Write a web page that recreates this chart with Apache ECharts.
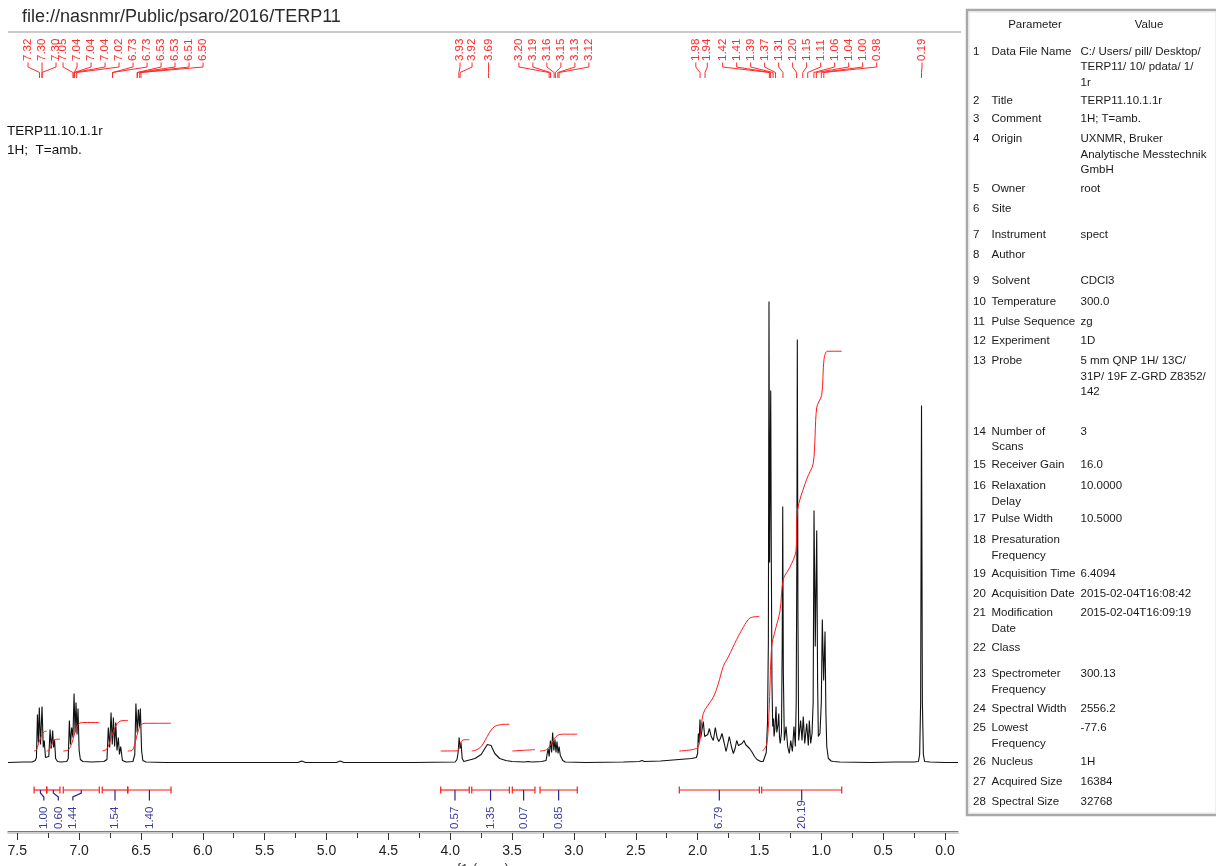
<!DOCTYPE html>
<html>
<head>
<meta charset="utf-8">
<title>TERP11 1H NMR</title>
<script src="https://cdn.jsdelivr.net/npm/echarts@6/dist/echarts.min.js"></script>
<style>
  html, body { margin: 0; padding: 0; background: #ffffff; }
  #chart { width: 1216px; height: 866px; }
</style>
</head>
<body>
<div id="chart"></div>
<script>
// ---------------------------------------------------------------- data
// 1H trace: [chemical shift (ppm), intensity (arbitrary units)]
const spectrum = [
  [7.575,0],[7.45,0.5],[7.38,0.5],[7.355,2],[7.345,5],[7.337,48],[7.329,20],[7.322,55],[7.312,18],
  [7.300,56],[7.290,15],[7.282,22],[7.272,5],[7.258,3],[7.245,6],[7.235,33],[7.225,14],[7.214,32],
  [7.207,15],[7.199,23],[7.190,4],[7.175,1],[7.15,0.5],[7.10,1],[7.088,4],[7.079,42],[7.070,18],
  [7.060,35],[7.050,25],[7.041,69],[7.033,30],[7.025,60],[7.017,28],[7.009,54],[7.000,12],[6.990,3],
  [6.97,1],[6.90,0.5],[6.80,1],[6.775,3],[6.764,35],[6.753,15],[6.742,50],[6.732,18],[6.723,45],
  [6.713,16],[6.704,40],[6.694,12],[6.683,25],[6.674,8],[6.664,16],[6.650,2],[6.62,0.5],[6.565,1],
  [6.550,8],[6.541,59],[6.531,30],[6.521,53],[6.513,35],[6.505,54],[6.495,12],[6.485,2],[6.46,0.5],
  [6.30,0],[5.80,0],[5.23,0],[5.20,1.5],[5.17,0],[4.92,0],[4.89,1.5],[4.86,0],[4.30,0],
  [3.96,0.5],[3.945,3],[3.936,10],[3.928,25],[3.920,14],[3.913,20],[3.903,4],[3.89,1],[3.86,2],
  [3.80,4],[3.75,8],[3.72,14],[3.70,18],[3.685,19],[3.67,17],[3.64,9],[3.60,4],[3.55,2],[3.50,1],
  [3.40,0.5],[3.37,1],[3.355,2],[3.34,0.5],[3.26,1],[3.225,2],[3.209,14],[3.200,6],[3.190,22],
  [3.180,10],[3.172,30],[3.162,12],[3.153,23],[3.145,10],[3.137,21],[3.128,9],[3.120,16],[3.110,7],
  [3.100,8],[3.090,2],[3.07,0.5],[2.90,0],[2.60,0.5],[2.47,1],[2.45,2],[2.43,1],[2.30,1.5],[2.15,3],
  [2.05,4],[2.01,5],[2.000,9],[1.994,29],[1.988,20],[1.981,43],[1.974,25],[1.967,27],[1.961,24],
  [1.954,41],[1.943,26],[1.932,24],[1.918,28],[1.905,34],[1.890,26],[1.873,22],[1.857,35],[1.843,25],
  [1.829,21],[1.816,24],[1.803,29],[1.786,20],[1.770,11],[1.757,18],[1.744,26],[1.727,16],[1.711,9],
  [1.697,14],[1.684,22],[1.670,17],[1.657,16],[1.641,19],[1.625,22],[1.612,18],[1.598,16],[1.580,14],
  [1.563,11],[1.540,6],[1.520,3],[1.509,2],[1.490,1],[1.470,1],[1.455,3],[1.445,10],[1.435,40],
  [1.428,120],[1.423,461],[1.418,200],[1.413,300],[1.409,372],[1.404,200],[1.399,80],[1.393,36],
  [1.387,44],[1.382,26],[1.375,34],[1.366,56],[1.360,30],[1.356,29],[1.350,38],[1.344,49],[1.338,25],
  [1.332,19],[1.322,30],[1.316,120],[1.312,256],[1.307,90],[1.299,22],[1.285,36],[1.272,16],[1.259,9],
  [1.247,22],[1.234,11],[1.221,36],[1.210,16],[1.203,60],[1.198,200],[1.194,423],[1.189,150],[1.183,22],
  [1.167,42],[1.156,22],[1.146,46],[1.134,19],[1.118,39],[1.105,17],[1.097,42],[1.086,19],[1.075,29],
  [1.066,60],[1.059,252],[1.049,116],[1.037,232],[1.030,80],[1.024,26],[1.011,29],[1.000,60],
  [0.992,143],[0.981,82],[0.970,131],[0.963,50],[0.956,16],[0.943,4],[0.920,1.5],[0.903,1],[0.85,0.5],
  [0.60,0],[0.40,0.5],[0.25,0.5],[0.215,1],[0.205,8],[0.197,60],[0.190,357],[0.183,60],[0.175,8],
  [0.165,1],[0.12,0.5],[0.0,0],[-0.105,0]
];

// picked peaks (ppm), in the groups they are annotated in
const peakGroups = [
  [7.32, 7.30, 7.30],
  [7.05, 7.04, 7.04, 7.04, 7.02, 6.73, 6.73, 6.53, 6.53, 6.51, 6.50],
  [3.93, 3.92],
  [3.69],
  [3.20, 3.19, 3.16, 3.15, 3.13, 3.12],
  [1.98, 1.94],
  [1.42, 1.41, 1.39, 1.37, 1.31, 1.20, 1.15, 1.11, 1.06, 1.04, 1.00, 0.98],
  [0.19]
];

// integration regions (ppm) and their integrals
const integralFrom   = [7.364, 7.262, 7.128, 6.813, 6.607, 4.077, 3.826, 3.498, 3.274, 2.148, 1.482];
const integralTo     = [7.262, 7.155, 6.837, 6.607, 6.257, 3.846, 3.522, 3.315, 2.973, 1.501, 0.835];
const integralValues = [1.00, 0.60, 1.44, 1.54, 1.40, 0.57, 1.35, 0.07, 0.85, 6.79, 20.19];

// running-integral curves: [ppm, fraction of the region's integral]
const integralShapes = [
  [[7.364,0],[7.345,0.05],[7.332,0.3],[7.315,0.6],[7.298,0.85],[7.280,0.98],[7.262,1]],
  [[7.262,0],[7.245,0.05],[7.228,0.4],[7.210,0.8],[7.190,0.97],[7.155,1]],
  [[7.128,0],[7.090,0.03],[7.070,0.15],[7.050,0.4],[7.035,0.65],[7.015,0.88],[6.995,0.98],[6.970,1],[6.837,1]],
  [[6.813,0],[6.780,0.05],[6.760,0.2],[6.740,0.45],[6.720,0.68],[6.700,0.85],[6.680,0.95],[6.660,0.99],[6.607,1]],
  [[6.607,0],[6.570,0.03],[6.550,0.25],[6.530,0.6],[6.510,0.88],[6.490,0.98],[6.460,1],[6.257,1]],
  [[4.077,0],[3.940,0.02],[3.925,0.4],[3.910,0.85],[3.895,0.98],[3.880,1],[3.846,1]],
  [[3.826,0],[3.790,0.04],[3.760,0.12],[3.730,0.3],[3.700,0.55],[3.670,0.78],[3.640,0.92],[3.600,0.98],[3.550,1],[3.522,1]],
  [[3.498,0],[3.400,0.5],[3.315,1]],
  [[3.274,0],[3.230,0.05],[3.200,0.25],[3.170,0.6],[3.145,0.85],[3.120,0.97],[3.090,1],[2.973,1]],
  [[2.148,0],[2.007,0.02],[1.981,0.08],[1.954,0.28],[1.873,0.40],[1.833,0.50],[1.792,0.63],[1.752,0.70],
   [1.684,0.83],[1.631,0.92],[1.576,0.99],[1.501,1]],
  [[1.474,0],[1.441,0.017],[1.423,0.096],[1.401,0.263],[1.374,0.30],[1.334,0.35],[1.307,0.43],[1.253,0.46],
   [1.205,0.50],[1.194,0.60],[1.118,0.68],[1.065,0.72],[1.037,0.86],[0.997,0.89],[0.978,0.98],[0.951,1],[0.835,1]]
];

// shift axis ticks (ppm)
const majorTicks = [0, 0.5, 1, 1.5, 2, 2.5, 3, 3.5, 4, 4.5, 5, 5.5, 6, 6.5, 7, 7.5];
const minorTicks = [0.25, 0.75, 1.25, 1.75, 2.25, 2.75, 3.25, 3.75, 4.25, 4.75, 5.25, 5.75, 6.25, 6.75, 7.25];

const fileTitle = 'file://nasnmr/Public/psaro/2016/TERP11';
const plotNotes = ['TERP11.10.1.1r', '1H;  T=amb.'];

// acquisition parameters
const paramHeader = ['Parameter', 'Value'];
const paramRows = [
  ['1', 'Data File Name', 'C:/ Users/ pill/ Desktop/\nTERP11/ 10/ pdata/ 1/\n1r'],
  ['2', 'Title', 'TERP11.10.1.1r'],
  ['3', 'Comment', '1H; T=amb.'],
  ['4', 'Origin', 'UXNMR, Bruker\nAnalytische Messtechnik\nGmbH'],
  ['5', 'Owner', 'root'],
  ['6', 'Site', ''],
  ['7', 'Instrument', 'spect'],
  ['8', 'Author', ''],
  ['9', 'Solvent', 'CDCl3'],
  ['10', 'Temperature', '300.0'],
  ['11', 'Pulse Sequence', 'zg'],
  ['12', 'Experiment', '1D'],
  ['13', 'Probe', '5 mm QNP 1H/ 13C/\n31P/ 19F Z-GRD Z8352/\n142'],
  ['14', 'Number of\nScans', '3'],
  ['15', 'Receiver Gain', '16.0'],
  ['16', 'Relaxation\nDelay', '10.0000'],
  ['17', 'Pulse Width', '10.5000'],
  ['18', 'Presaturation\nFrequency', ''],
  ['19', 'Acquisition Time', '6.4094'],
  ['20', 'Acquisition Date', '2015-02-04T16:08:42'],
  ['21', 'Modification\nDate', '2015-02-04T16:09:19'],
  ['22', 'Class', ''],
  ['23', 'Spectrometer\nFrequency', '300.13'],
  ['24', 'Spectral Width', '2556.2'],
  ['25', 'Lowest\nFrequency', '-77.6'],
  ['26', 'Nucleus', '1H'],
  ['27', 'Acquired Size', '16384'],
  ['28', 'Spectral Size', '32768']
];

// ---------------------------------------------------------------- layout
const FONT = '"Liberation Sans", Arial, Helvetica, sans-serif';
const PPM_MAX = 7.575, PPM_MIN = -0.105;
const GRID = { left: 8, right: 258, top: 40, bottom: 35 };
const Y_MIN = -68.5, Y_MAX = 722.5;

// peak annotation: where each group's labels are centred (ppm) and their spacing (px)
const peakLabelCentres = [7.300, 6.564, 3.872, 3.690, 3.162, 1.968, 1.175, 0.186];
const peakLabelGaps    = [14, 14, 12, 14, 14, 11.5, 14, 14];
const PEAK_TEXT_Y = 61, PEAK_LINE_Y = [62.5, 67, 72.5, 78];

// integral curves sit on an offset and rise in proportion to the integral
const INT_BASE = 11.5, INT_SCALE = 19.8;
const INT_BAR_Y = 790, INT_CAP = 3.6, INT_TEXT_Y = 829;
const INT_LABEL_GAP = 14.5, INT_LABEL_MERGE = 30;

// table
const TABLE = { left: 967, top: 10, right: 1218, bottom: 815 };
const COL_NUM = 973, COL_PARAM = 991.5, COL_VALUE = 1080.5, LINE_H = 15.4;
const rowFirstLineY = [51.7,100.7,119,139.3,189,209.3,235,255,281,301.7,321.7,340.7,361,431.7,
  465,486,519.3,540,574,594,613.3,648.3,674.3,709,728.3,762.3,782.3,801.7];

// spread overlapping labels: clusters of close centres are laid out evenly around their mean
function spreadLabels(centres, gap, mergeDist) {
  let clusters = centres.map((x, i) => ({ ids: [i], sum: x, start: x }));
  let changed = true;
  while (changed) {
    changed = false;
    for (let k = 0; k < clusters.length - 1; k++) {
      const a = clusters[k], b = clusters[k + 1];
      const aEnd = a.start + (a.ids.length - 1) * gap;
      if (b.start - aEnd < mergeDist) {
        const ids = a.ids.concat(b.ids), sum = a.sum + b.sum;
        clusters.splice(k, 2, { ids, sum, start: sum / ids.length - (ids.length - 1) * gap / 2 });
        changed = true;
        break;
      }
    }
  }
  const out = [];
  clusters.forEach(c => c.ids.forEach((id, j) => { out[id] = c.start + j * gap; }));
  return out;
}

// ---------------------------------------------------------------- series
const peakLabelData = [];
peakGroups.forEach((g, gi) => g.forEach((p, i) => peakLabelData.push([p, gi, i, g.length])));

const integralData = integralValues.map((v, i) => [integralFrom[i], integralTo[i], v, i]);

const integralCurveSeries = integralShapes.map((shape, i) => ({
  type: 'line',
  xAxisIndex: 0, yAxisIndex: 0,
  data: shape.map(([ppm, f]) => [ppm, INT_BASE + f * integralValues[i] * INT_SCALE]),
  showSymbol: false, symbol: 'none', smooth: 0.3,
  lineStyle: { color: '#ff1a1a', width: 1 },
  silent: true, z: 3
}));

const chart = echarts.init(document.getElementById('chart'), null, { renderer: 'canvas' });

const tableGraphics = [];
tableGraphics.push({
  type: 'rect', shape: { x: TABLE.left, y: TABLE.top, width: TABLE.right - TABLE.left, height: TABLE.bottom - TABLE.top },
  style: { fill: '#ffffff', stroke: '#a8a8a8', lineWidth: 2.5 }, z: 1
});
tableGraphics.push({
  type: 'rect', shape: { x: TABLE.left + 2, y: TABLE.top + 2, width: TABLE.right - TABLE.left - 4, height: TABLE.bottom - TABLE.top - 4 },
  style: { fill: null, stroke: '#e2e2e2', lineWidth: 1 }, z: 1
});
tableGraphics.push({ type: 'text', x: 1035, y: 25, z: 2,
  style: { text: paramHeader[0], font: '11.5px ' + FONT, fill: '#1a1a1a', align: 'center', verticalAlign: 'middle' } });
tableGraphics.push({ type: 'text', x: 1149, y: 25, z: 2,
  style: { text: paramHeader[1], font: '11.5px ' + FONT, fill: '#1a1a1a', align: 'center', verticalAlign: 'middle' } });
paramRows.forEach((row, i) => {
  const top = rowFirstLineY[i] - LINE_H / 2;
  [[COL_NUM, row[0]], [COL_PARAM, row[1]], [COL_VALUE, row[2]]].forEach(([x, t]) => {
    if (!t) return;
    tableGraphics.push({ type: 'text', x, y: top, z: 2,
      style: { text: t, font: '11.5px ' + FONT, fill: '#1a1a1a', align: 'left', verticalAlign: 'top', lineHeight: LINE_H } });
  });
});

const option = {
  animation: false,
  backgroundColor: '#ffffff',
  grid: { left: GRID.left, right: GRID.right, top: GRID.top, bottom: GRID.bottom,
          containLabel: false, outerBoundsMode: 'none' },
  xAxis: [
    { // shift axis: light line, major ticks and labels
      type: 'value', min: PPM_MIN, max: PPM_MAX, inverse: true, position: 'bottom', offset: 2,
      axisLine: { show: true, onZero: false, lineStyle: { color: '#cfcfcf', width: 2 } },
      axisTick: { show: true, length: 7, customValues: majorTicks, lineStyle: { color: '#333333', width: 1 } },
      axisLabel: { show: true, customValues: majorTicks, margin: 11, color: '#222222',
        fontFamily: FONT, fontSize: 14, formatter: v => v.toFixed(1) },
      splitLine: { show: false },
      name: 'f1 (ppm)', nameLocation: 'middle', nameGap: 29,
      nameTextStyle: { fontFamily: FONT, fontSize: 14, color: '#444444' }
    },
    { // darker upper rule of the axis
      type: 'value', min: PPM_MIN, max: PPM_MAX, inverse: true, position: 'bottom', offset: 0,
      axisLine: { show: true, onZero: false, lineStyle: { color: '#7a7a7a', width: 1 } },
      axisTick: { show: false }, axisLabel: { show: false }, splitLine: { show: false }
    },
    { // minor ticks
      type: 'value', min: PPM_MIN, max: PPM_MAX, inverse: true, position: 'bottom', offset: 2,
      axisLine: { show: false, onZero: false },
      axisTick: { show: true, length: 5, customValues: minorTicks, lineStyle: { color: '#333333', width: 1 } },
      axisLabel: { show: false }, splitLine: { show: false }
    }
  ],
  yAxis: { type: 'value', min: Y_MIN, max: Y_MAX, show: false, splitLine: { show: false } },
  graphic: [
    { type: 'text', x: 22, y: 17, style: { text: fileTitle, font: '18px ' + FONT, fill: '#2a2a2a', align: 'left', verticalAlign: 'middle' } },
    { type: 'line', shape: { x1: 8, y1: 32, x2: 961, y2: 32 }, style: { stroke: '#b8b8b8', lineWidth: 1.5 } },
    { type: 'text', x: 7, y: 131, style: { text: plotNotes[0], font: '13.5px ' + FONT, fill: '#111111', align: 'left', verticalAlign: 'middle' } },
    { type: 'text', x: 7, y: 150, style: { text: plotNotes[1], font: '13.5px ' + FONT, fill: '#111111', align: 'left', verticalAlign: 'middle' } }
  ].concat(tableGraphics),
  series: [
    {
      name: 'spectrum', type: 'line', xAxisIndex: 0, yAxisIndex: 0,
      data: spectrum, showSymbol: false, symbol: 'none', sampling: null,
      lineStyle: { color: '#111111', width: 1.1 }, silent: true, z: 2
    }
  ].concat(integralCurveSeries, [
    {
      name: 'peak labels', type: 'custom', xAxisIndex: 0, yAxisIndex: 0, clip: false, silent: true, z: 4,
      data: peakLabelData,
      renderItem(params, api) {
        const ppm = api.value(0), g = api.value(1), i = api.value(2), n = api.value(3);
        const px = api.coord([ppm, 0])[0];
        const cx = api.coord([peakLabelCentres[g], 0])[0];
        const lx = cx + (i - (n - 1) / 2) * peakLabelGaps[g];
        return {
          type: 'group',
          children: [
            { type: 'polyline',
              shape: { points: [[lx, PEAK_LINE_Y[0]], [lx, PEAK_LINE_Y[1]], [px, PEAK_LINE_Y[2]], [px, PEAK_LINE_Y[3]]] },
              style: { stroke: '#ff2a2a', lineWidth: 1, fill: null } },
            { type: 'text', x: lx, y: PEAK_TEXT_Y, rotation: Math.PI / 2,
              style: { text: ppm.toFixed(2), fill: '#ff2a2a', font: '11.5px ' + FONT, align: 'left', verticalAlign: 'middle' } }
          ]
        };
      }
    },
    {
      name: 'integrals', type: 'custom', xAxisIndex: 0, yAxisIndex: 0, clip: false, silent: true, z: 4,
      data: integralData,
      renderItem(params, api) {
        const i = params.dataIndex;
        const centres = integralFrom.map((f, k) => api.coord([(f + integralTo[k]) / 2, 0])[0]);
        const labelX = spreadLabels(centres, INT_LABEL_GAP, INT_LABEL_MERGE);
        const x0 = api.coord([api.value(0), 0])[0];
        const x1 = api.coord([api.value(1), 0])[0];
        const cx = centres[i], lx = labelX[i];
        const y = INT_BAR_Y;
        return {
          type: 'group',
          children: [
            { type: 'line', shape: { x1: x0, y1: y, x2: x1, y2: y }, style: { stroke: '#ff1a1a', lineWidth: 1.2 } },
            { type: 'line', shape: { x1: x0, y1: y - INT_CAP, x2: x0, y2: y + INT_CAP }, style: { stroke: '#ff1a1a', lineWidth: 1.2 } },
            { type: 'line', shape: { x1: x1, y1: y - INT_CAP, x2: x1, y2: y + INT_CAP }, style: { stroke: '#ff1a1a', lineWidth: 1.2 } },
            { type: 'polyline', shape: { points: [[cx, y], [cx, y + 3], [lx, y + 7], [lx, y + 10.5]] },
              style: { stroke: '#26268c', lineWidth: 1.2, fill: null } },
            { type: 'text', x: lx, y: INT_TEXT_Y, rotation: Math.PI / 2,
              style: { text: api.value(2).toFixed(2), fill: '#3a3a9a', font: '11.5px ' + FONT, align: 'left', verticalAlign: 'middle' } }
          ]
        };
      }
    }
  ])
};

chart.setOption(option);
</script>
</body>
</html>
